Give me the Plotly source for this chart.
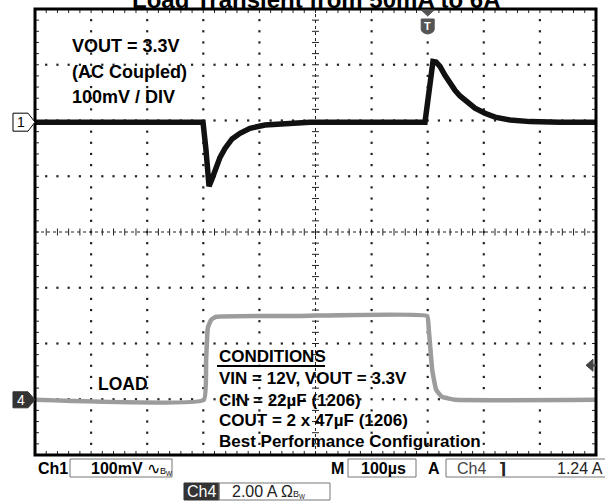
import plotly.graph_objects as go

# ---------------- data ----------------
TIME_CH1_US = [0, 299.5, 304.8, 310.2, 315.5, 322.6, 329.8, 338.7, 351.2, 365.4, 383.2, 410, 445.6, 490,
               695.2, 700.5, 705.9, 709.4, 714.8, 721.9, 730.8, 739.7, 748.7, 757.6, 770.1, 784.3,
               802.1, 820.0, 846.7, 882.4, 935.8, 1000]
CH1_MV = [0, 0, -50, -115, -102, -81, -63, -47, -30, -20, -11, -5, -2, 0,
          0, 40, 90, 109, 108, 100, 84, 70, 57, 47, 36, 25,
          16, 9, 4, 1, 0, 0]

TIME_CH4_US = [0, 301, 305, 308, 314, 323, 472, 699, 702, 708, 715, 725, 749, 1000]
CH4_A = [0, 0, 1.43, 2.58, 2.87, 2.98, 3.01, 3.01, 2.51, 1.08, 0.36, 0.11, 0, 0]

CH1_SCALE_MV = 100      # mV / div
CH4_SCALE_A = 2.0       # A / div
CH1_OFFSET_DIV = 1.97   # ground marker position (div)
CH4_OFFSET_DIV = -3.01
TRIGGER_US = 700
TRIGGER_LEVEL_A = 1.24
TIME_DIV_US = 100

TITLE = "Load Transient from 50mA to 6A"
NOTE_TOP = ["VOUT = 3.3V", "(AC Coupled)", "100mV / DIV"]
NOTE_COND = ["VIN = 12V, VOUT = 3.3V", "CIN = 22µF (1206)",
             "COUT = 2 x 47µF (1206)", "Best Performance Configuration"]

# ---------------- geometry helpers ----------------
W, H = 605, 502
L, R, T, B = 35, 596, 9, 455
PW, PH = R - L, B - T
FONT = "Arial, Liberation Sans, sans-serif"


def px(x):
    return (x - L) / PW


def py(y):
    return (B - y) / PH


def ypx_from_div(d):
    return B - (d + 4) / 8 * PH


ch1_y = [CH1_OFFSET_DIV + v / CH1_SCALE_MV for v in CH1_MV]
ch4_y = [CH4_OFFSET_DIV + v / CH4_SCALE_A for v in CH4_A]

fig = go.Figure()

# graticule dots
gx, gy = [], []
for i in range(1, 10):
    if i == 5:
        continue
    for k in range(1, 40):
        gx.append(i * TIME_DIV_US)
        gy.append(-4 + k * 0.2)
for j in range(-3, 4):
    if j == 0:
        continue
    for k in range(1, 50):
        if k % 5 == 0:
            continue
        gx.append(k * 20)
        gy.append(j)
fig.add_trace(go.Scatter(x=gx, y=gy, mode="markers",
                         marker=dict(size=2.2, color="#222", symbol="square"),
                         hoverinfo="skip", showlegend=False))

# centre lines (dotted) with ticks
fig.add_trace(go.Scatter(x=[0, 1000], y=[0, 0], mode="lines",
                         line=dict(color="#222", width=1, dash="dot"),
                         hoverinfo="skip", showlegend=False))
fig.add_trace(go.Scatter(x=[500, 500], y=[-4, 4], mode="lines",
                         line=dict(color="#222", width=1, dash="dot"),
                         hoverinfo="skip", showlegend=False))
tx, ty = [], []
dxp = 1000 / PW  # us per px
dyp = 8 / PH     # div per px
for k in range(1, 50):
    x = k * 20
    tx += [x, x, None]
    ty += [-3.5 * dyp, 3.5 * dyp, None]
    tx += [x, x, None, x, x, None]
    ty += [4, 4 - 4 * dyp, None, -4, -4 + 4 * dyp, None]
for k in range(1, 40):
    y = -4 + k * 0.2
    tx += [500 - 3.5 * dxp, 500 + 3.5 * dxp, None]
    ty += [y, y, None]
    tx += [0, 4 * dxp, None, 1000, 1000 - 4 * dxp, None]
    ty += [y, y, None, y, y, None]
fig.add_trace(go.Scatter(x=tx, y=ty, mode="lines",
                         line=dict(color="#222", width=1),
                         hoverinfo="skip", showlegend=False))

# traces
fig.add_trace(go.Scatter(x=TIME_CH4_US, y=ch4_y, mode="lines",
                         line=dict(color="#9c9c9c", width=4.5, shape="spline", smoothing=0.3),
                         hoverinfo="skip", showlegend=False))
fig.add_trace(go.Scatter(x=TIME_CH1_US, y=ch1_y, mode="lines",
                         line=dict(color="#111", width=5.5),
                         hoverinfo="skip", showlegend=False))

shapes = []
ann = []

shapes.append(dict(type="rect", xref="paper", yref="paper", x0=0, x1=1, y0=0, y1=1,
                   line=dict(color="black", width=3)))


def path(points, fill, line="black", lw=1):
    d = "M " + " L ".join(f"{px(x):.5f},{py(y):.5f}" for x, y in points) + " Z"
    return dict(type="path", xref="paper", yref="paper", path=d,
                fillcolor=fill, line=dict(color=line, width=lw))


# channel ground markers
y1 = ypx_from_div(CH1_OFFSET_DIV)
shapes.append(path([(13, y1 - 9), (28, y1 - 9), (35, y1), (28, y1 + 9), (13, y1 + 9)], "white"))
ann.append(dict(x=px(20.5), y=py(y1), text="1", font=dict(size=14, color="black", family=FONT)))
y4 = ypx_from_div(CH4_OFFSET_DIV)
shapes.append(path([(13, y4 - 8), (28, y4 - 8), (35, y4), (28, y4 + 8), (13, y4 + 8)], "#333", "#333"))
ann.append(dict(x=px(20.5), y=py(y4), text="4", font=dict(size=14, color="white", family=FONT)))

# trigger position marker
xt = L + TRIGGER_US / 1000 * PW
shapes.append(path([(xt - 6.5, 10), (xt + 6.5, 10), (xt, 16)], "#555", "#555"))
shapes.append(dict(type="path", xref="paper", yref="paper",
                   path=(f"M {px(xt-6.5)},{py(19)} L {px(xt+6.5)},{py(19)} L {px(xt+6.5)},{py(29)} "
                         f"Q {px(xt+6.5)},{py(33)} {px(xt)},{py(34)} Q {px(xt-6.5)},{py(33)} {px(xt-6.5)},{py(29)} Z"),
                   fillcolor="#555", line=dict(color="#555", width=1)))
ann.append(dict(x=px(xt), y=py(26), text="<b>T</b>", font=dict(size=11, color="white", family=FONT)))

# trigger level arrow
ytl = ypx_from_div(CH4_OFFSET_DIV + TRIGGER_LEVEL_A / CH4_SCALE_A)
shapes.append(path([(586, ytl), (593, ytl - 6), (593, ytl + 6)], "#444", "#444"))
shapes.append(dict(type="line", xref="paper", yref="paper", x0=px(592), x1=px(596),
                   y0=py(ytl), y1=py(ytl), line=dict(color="#444", width=2)))

# title (cut off at top)
ann.append(dict(x=px(316), y=py(15), yanchor="bottom", text=f"<b>{TITLE}</b>",
                font=dict(size=24, color="black", family=FONT)))

# notes
for s, yy in zip(NOTE_TOP, [46, 72, 97]):
    ann.append(dict(x=px(70), y=py(yy), xanchor="left", text=f"<b>{s}</b>",
                    font=dict(size=18, color="black", family=FONT)))
ann.append(dict(x=px(96), y=py(384), xanchor="left", text="<b>LOAD</b>",
                font=dict(size=17.5, color="black", family=FONT)))
ann.append(dict(x=px(217), y=py(356), xanchor="left", text="<b>CONDITIONS</b>",
                font=dict(size=17, color="black", family=FONT)))
shapes.append(dict(type="line", xref="paper", yref="paper", x0=px(217), x1=px(325),
                   y0=py(366), y1=py(366), line=dict(color="black", width=2)))
for s, yy in zip(NOTE_COND, [378, 400, 420, 441]):
    ann.append(dict(x=px(217), y=py(yy), xanchor="left", text=f"<b>{s}</b>",
                    font=dict(size=17, color="black", family=FONT)))


def box(x0, x1, y0, y1, fill="rgba(0,0,0,0)", line="#777"):
    shapes.append(dict(type="rect", xref="paper", yref="paper", x0=px(x0), x1=px(x1),
                       y0=py(y1), y1=py(y0), fillcolor=fill, line=dict(color=line, width=1)))


box(70, 172, 459, 477)
box(348, 416, 459, 477)
box(446, 606, 459, 477)
box(184, 219, 483, 500, fill="#333", line="#333")
box(219, 330, 483, 500)

sb = 16
ann.append(dict(x=px(36), y=py(468), xanchor="left", text="<b>Ch1</b>",
                font=dict(size=sb, color="black", family=FONT)))
ann.append(dict(x=px(89), y=py(468), xanchor="left",
                text=f"<b>{CH1_SCALE_MV}mV</b> ∿<span style='font-size:9px'>B<sub>W</sub></span>",
                font=dict(size=sb, color="black", family=FONT)))
ann.append(dict(x=px(346), y=py(468), xanchor="right", text="<b>M</b>",
                font=dict(size=sb, color="black", family=FONT)))
ann.append(dict(x=px(359), y=py(468), xanchor="left", text=f"<b>{TIME_DIV_US}µs</b>",
                font=dict(size=sb, color="black", family=FONT)))
ann.append(dict(x=px(434), y=py(468), text="<b>A</b>",
                font=dict(size=sb, color="black", family=FONT)))
ann.append(dict(x=px(455), y=py(468), xanchor="left", text="Ch4",
                font=dict(size=sb, color="#444", family=FONT)))
ann.append(dict(x=px(502), y=py(468), text="<b>⌉</b>",
                font=dict(size=sb, color="#222", family="DejaVu Sans")))
ann.append(dict(x=px(605), y=py(468), xanchor="right", text=f"{TRIGGER_LEVEL_A:.2f} A",
                font=dict(size=sb, color="#222", family=FONT)))
ann.append(dict(x=px(201.5), y=py(491.5), text="Ch4",
                font=dict(size=sb, color="white", family=FONT)))
ann.append(dict(x=px(230), y=py(491.5), xanchor="left",
                text=f"{CH4_SCALE_A:.2f} A Ω<span style='font-size:9px'>B<sub>W</sub></span>",
                font=dict(size=sb, color="#222", family=FONT)))

for a in ann:
    a.setdefault("xref", "paper")
    a.setdefault("yref", "paper")
    a.setdefault("showarrow", False)
    a.setdefault("xanchor", "center")
    a.setdefault("yanchor", "middle")

fig.update_layout(
    width=W, height=H,
    margin=dict(l=L, r=W - R, t=T, b=H - B, pad=0),
    paper_bgcolor="white", plot_bgcolor="white",
    xaxis=dict(range=[0, 1000], visible=False, fixedrange=True),
    yaxis=dict(range=[-4, 4], visible=False, fixedrange=True),
    shapes=shapes, annotations=ann, showlegend=False,
)

fig.write_html("out.html", config={"displayModeBar": False},
               post_script="document.body.style.margin='0';document.body.style.overflow='hidden';")
